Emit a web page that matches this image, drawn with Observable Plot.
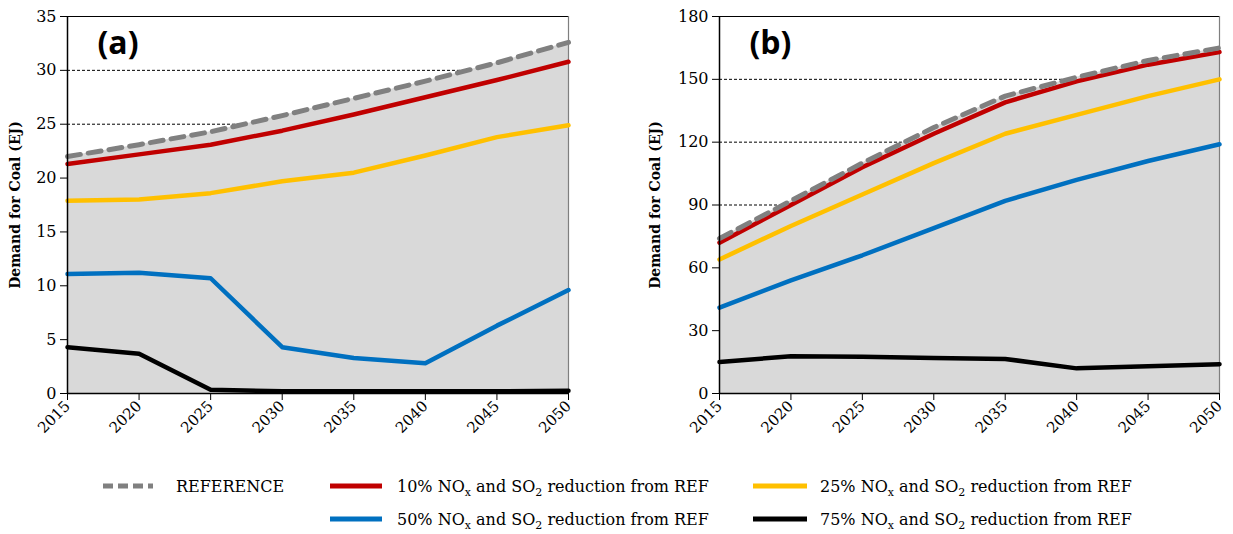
<!DOCTYPE html>
<html>
<head>
<meta charset="utf-8">
<script src="https://cdn.jsdelivr.net/npm/d3@7"></script>
<script src="https://cdn.jsdelivr.net/npm/@observablehq/plot@0.6"></script>
<style>
  body { margin:0; background:#fff; width:1233px; height:534px; overflow:hidden; font-family:"DejaVu Serif", serif; }
  #charts { display:flex; }
  #legend { position:relative; height:79px; font-family:"DejaVu Serif", serif; font-size:16px; color:#000; }
  .item { position:absolute; display:flex; align-items:center; white-space:nowrap; }
  .item svg { flex:none; }
</style>
</head>
<body>
<div id="charts"></div>
<div id="legend"></div>
<script>
const years = [2015, 2020, 2025, 2030, 2035, 2040, 2045, 2050];

// Panel (a)
const refA = [22.0, 23.1, 24.3, 25.8, 27.4, 29.0, 30.7, 32.6];
const r10A = [21.3, 22.2, 23.1, 24.4, 25.9, 27.5, 29.1, 30.8];
const r25A = [17.9, 18.0, 18.6, 19.7, 20.5, 22.1, 23.8, 24.9];
const r50A = [11.1, 11.2, 10.7, 4.3, 3.3, 2.8, 6.3, 9.6];
const r75A = [4.3, 3.7, 0.35, 0.2, 0.2, 0.2, 0.2, 0.25];
const yTicksA = [0, 5, 10, 15, 20, 25, 30, 35];

// Panel (b)
const refB = [74, 92, 110, 127, 142, 151, 159, 165];
const r10B = [72, 90, 108, 124, 139, 149, 157, 163];
const r25B = [64, 80, 95, 110, 124, 133, 142, 150];
const r50B = [41, 54, 66, 79, 92, 102, 111, 119];
const r75B = [15, 17.8, 17.5, 17, 16.5, 12, 13, 14];
const yTicksB = [0, 30, 60, 90, 120, 150, 180];

const seriesNames = ["REFERENCE", "10%", "25%", "50%", "75%"];
const seriesColors = ["#808080", "#C00000", "#FFC000", "#0070C0", "#000000"];

function tidy(arrs) {
  const out = [];
  arrs.forEach((arr, i) => arr.forEach((v, j) => out.push({series: seriesNames[i], year: years[j], v})));
  return out;
}

function panel(arrs, yTicks, label, width, ml, mr, labelDx) {
  const data = tidy(arrs);
  const ymax = yTicks[yTicks.length - 1];
  const refData = data.filter(d => d.series === "REFERENCE");
  const solid = data.filter(d => d.series !== "REFERENCE");
  return Plot.plot({
    width, height: 455,
    marginLeft: ml, marginRight: mr, marginTop: 16, marginBottom: 62,
    style: {fontFamily: "DejaVu Serif, serif", fontSize: "16px", color: "#000", background: "#fff"},
    x: {domain: [2015, 2050], label: null},
    y: {domain: [0, ymax], label: null},
    color: {domain: seriesNames, range: seriesColors},
    marks: [
      Plot.ruleY(yTicks.slice(1, -1), {stroke: "#000", strokeWidth: 1, strokeDasharray: "3,2"}),
      Plot.ruleY([ymax], {stroke: "#000", strokeWidth: 1}),
      Plot.areaY(refData, {x: "year", y: "v", fill: "#d9d9d9"}),
      Plot.ruleX([2050], {stroke: "#7f7f7f", strokeWidth: 1.2}),
      Plot.line(solid, {x: "year", y: "v", z: "series", stroke: "series", strokeWidth: 4.5, strokeLinejoin: "round"}),
      Plot.line(refData, {x: "year", y: "v", stroke: "series", strokeWidth: 5, strokeDasharray: "13,8"}),
      Plot.ruleX([2015], {stroke: "#000", strokeWidth: 1.5}),
      Plot.ruleY([0], {stroke: "#000", strokeWidth: 1.5}),
      Plot.axisX({ticks: years, tickFormat: d => String(d), tickSize: 7, tickRotate: -45, tickPadding: 3, fontSize: 15, label: null}),
      Plot.axisY({ticks: yTicks, tickSize: 7, tickPadding: 4, fontSize: 16, label: null}),
      Plot.text(["Demand for Coal (EJ)"], {frameAnchor: "left", textAnchor: "middle", dx: labelDx, rotate: -90, fontWeight: "bold", fontSize: 14}),
      Plot.text([label], {frameAnchor: "top-left", dx: 30, dy: 15, fontFamily: "Open Sans, sans-serif", fontWeight: "bold", fontSize: 32})
    ]
  });
}

const charts = document.getElementById("charts");
charts.append(panel([refA, r10A, r25A, r50A, r75A], yTicksA, "(a)", 616, 67, 48, -52));
charts.append(panel([refB, r10B, r25B, r50B, r75B], yTicksB, "(b)", 617, 103, 14, -64));

// Legend
const legendItems = [
  {name: "REFERENCE", html: "REFERENCE", x: 103, sw: 50, row: 0, textX: 176},
  {name: "10%", html: "10% NO<sub>x</sub> and SO<sub>2</sub> reduction from REF", x: 330, sw: 52, row: 0, textX: 397},
  {name: "25%", html: "25% NO<sub>x</sub> and SO<sub>2</sub> reduction from REF", x: 753, sw: 54, row: 0, textX: 820},
  {name: "50%", html: "50% NO<sub>x</sub> and SO<sub>2</sub> reduction from REF", x: 330, sw: 52, row: 1, textX: 397},
  {name: "75%", html: "75% NO<sub>x</sub> and SO<sub>2</sub> reduction from REF", x: 753, sw: 54, row: 1, textX: 820}
];
const rowY = [31, 64];
const legend = document.getElementById("legend");
legendItems.forEach(it => {
  const color = seriesColors[seriesNames.indexOf(it.name)];
  const div = document.createElement("div");
  div.className = "item";
  div.style.left = it.x + "px";
  div.style.top = (rowY[it.row] - 12) + "px";
  div.style.height = "24px";
  const dash = it.name === "REFERENCE" ? 'stroke-dasharray="10,5"' : "";
  div.innerHTML = `<svg width="${it.textX - it.x}" height="10"><line x1="0" x2="${it.sw}" y1="5" y2="5" stroke="${color}" stroke-width="5" ${dash}/></svg><span>${it.html}</span>`;
  legend.append(div);
});
document.querySelectorAll("#legend sub").forEach(s => { s.style.fontSize = "11px"; s.style.verticalAlign = "-4px"; s.style.lineHeight = "0"; });
</script>
</body>
</html>
